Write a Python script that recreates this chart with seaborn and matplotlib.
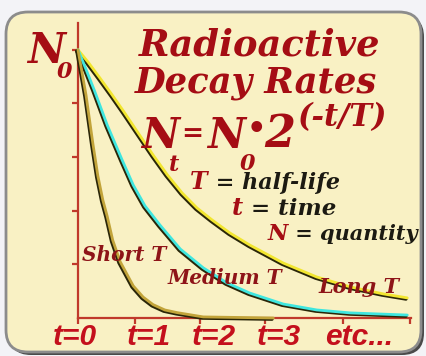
import matplotlib
matplotlib.use("Agg")
import matplotlib.pyplot as plt
import matplotlib.patches as mpatches
import matplotlib.patheffects as pe
from matplotlib.transforms import IdentityTransform
import seaborn as sns

# curves: time (t units) and quantity as a fraction of N0
short_t = [0, 0.13, 0.24, 0.32, 0.40, 0.47, 0.56, 0.68, 0.89, 1.05, 1.21, 1.40, 1.60, 2.02, 3.15]
short_n = [1.00, 0.83, 0.65, 0.53, 0.44, 0.38, 0.29, 0.21, 0.12, 0.078, 0.05, 0.03, 0.02, 0.004, 0.0]

medium_t = [0, 0.10, 0.26, 0.47, 0.71, 0.89, 1.08, 1.32, 1.65, 2.02, 2.40, 2.77, 3.31, 3.85, 4.39, 5.31]
medium_n = [1.00, 0.944, 0.851, 0.72, 0.59, 0.496, 0.418, 0.347, 0.257, 0.187, 0.131, 0.093, 0.052, 0.03,
            0.019, 0.011]

long_t = [0, 0.16, 0.35, 0.55, 0.74, 0.97, 1.21, 1.44, 1.68, 1.92, 2.16, 2.45, 2.77, 3.31, 3.85, 4.39, 4.92, 5.31]
long_n = [1.00, 0.955, 0.896, 0.832, 0.769, 0.69, 0.608, 0.534, 0.466, 0.41, 0.366, 0.317, 0.272, 0.205,
          0.153, 0.116, 0.09, 0.075]

x_ticks = [0, 0.92, 1.97, 3.02, 4.27, 5.35]
y_ticks = [0.2, 0.4, 0.6, 0.8, 1.0]
tick_labels = ["t=0", "t=1", "t=2", "t=3", "etc..."]
label_pos = [-0.40, 0.79, 1.84, 2.89, 3.99]

W, H = 427, 356
RED = "#a50d14"
AXRED = "#c0392b"
DARK = "#2a2608"

sns.set_theme(style="white")
serif = ["DejaVu Serif"]
narrow = ["Liberation Sans Narrow", "Liberation Sans", "DejaVu Sans"]

fig = plt.figure(figsize=(W / 100, H / 100), dpi=100, facecolor="#f3f3f7")

# rounded yellow card with a shadow
shadow = mpatches.FancyBboxPatch((9, 1), 415, 340, boxstyle="round,pad=0,rounding_size=22",
                                 transform=IdentityTransform(), fc="#4a4a4a", ec="none", zorder=-3)
card = mpatches.FancyBboxPatch((6, 4), 415, 340, boxstyle="round,pad=0,rounding_size=22",
                               transform=IdentityTransform(), fc="#f9f1c4", ec="#8c8c8c", lw=2, zorder=-2)
fig.add_artist(shadow)
fig.add_artist(card)

ax = fig.add_axes([78 / W, 38 / H, 333 / W, 295 / H])
ax.set_facecolor("none")
ax.set_xlim(0, 5.37)
ax.set_ylim(0, 1.1)

curves = [(long_t, long_n, "#f2e630"), (medium_t, medium_n, "#3fe6df"), (short_t, short_n, "#c2a43a")]
for tt, nn, col in curves:
    sns.lineplot(x=tt, y=nn, ax=ax, sort=False, estimator=None, color=col, lw=2.0,
                 clip_on=False, zorder=3,
                 path_effects=[pe.Stroke(linewidth=2.3, foreground=DARK, offset=(-0.9, -0.9)), pe.Normal()])

for s in ["top", "right"]:
    ax.spines[s].set_visible(False)
for s in ["left", "bottom"]:
    ax.spines[s].set_color(AXRED)
    ax.spines[s].set_linewidth(1.6)
ax.set_xticks(x_ticks)
ax.set_yticks(y_ticks)
ax.set_xticklabels([])
ax.set_yticklabels([])
ax.tick_params(axis="both", direction="out", length=4, width=1.6, color=AXRED, bottom=True, left=True)
ax.set_xlabel("")
ax.set_ylabel("")

for xp, lab in zip(label_pos, tick_labels):
    ax.text(xp, -0.10, lab, fontsize=21.5, fontweight="bold", fontstyle="italic",
            family=narrow, color="#c4101c", ha="left", va="baseline")


def ptext(x, y, s, size, color=RED, va="baseline", fam=serif):
    return fig.text(x / W, 1 - y / H, s, fontsize=size, fontweight="bold", fontstyle="italic",
                    family=fam, color=color, ha="left", va=va)


# y axis label
ptext(27, 63, "N", 30)
ptext(57, 78, "0", 16)

# title
ptext(139, 56, "Radioactive", 26.5)
ptext(135, 92, "Decay Rates", 25.5)

# formula
ptext(141, 148, "N", 30)
ptext(169, 171, "t", 16)
ptext(181, 134, "=", 19, va="center")
ptext(207, 148, "N", 30)
ptext(240, 170, "0", 16)
ptext(247, 130, "\u2022", 22, va="center")
ptext(264, 147, "2", 32)
ptext(297, 126, "(-t/T)", 22)

# definitions: red symbol, dark text
fig.canvas.draw()
rend = fig.canvas.get_renderer()
for x0, y0, sym, rest, sz in [(190, 189, "T", " = half-life", 16),
                              (232, 215, "t", " = time", 16.5),
                              (268, 240, "N", " = quantity", 15)]:
    t1 = ptext(x0, y0, sym, sz + 1)
    bb = t1.get_window_extent(rend)
    fig.text(bb.x1 / W, 1 - y0 / H, rest, fontsize=sz, fontweight="bold", fontstyle="italic",
             family=serif, color="#1c1a12", ha="left", va="baseline")

# curve names
ptext(82, 261, "Short T", 14.5, color="#8e1418")
ptext(168, 284, "Medium T", 14.5, color="#8e1418")
ptext(318, 293, "Long T", 15, color="#8e1418")

fig.savefig("out.png", dpi=100, facecolor=fig.get_facecolor())
